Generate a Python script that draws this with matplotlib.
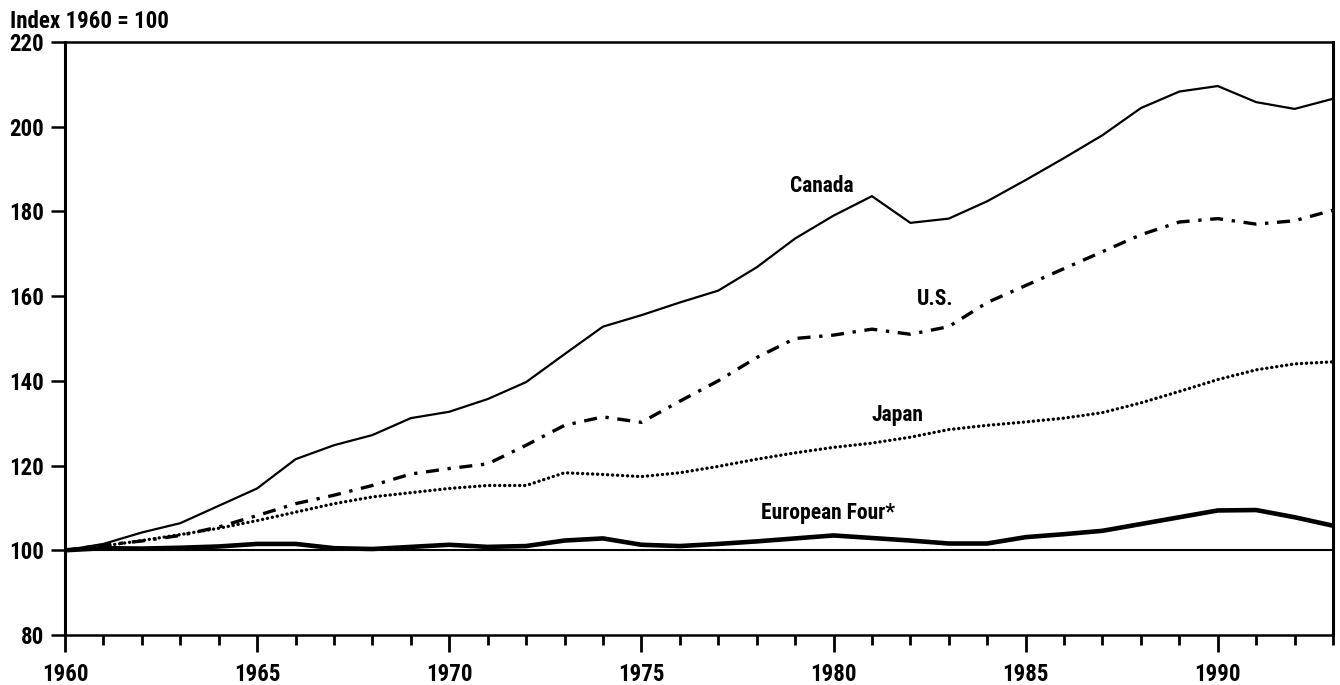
import numpy as np
import matplotlib
matplotlib.use("Agg")
import matplotlib.pyplot as plt
from matplotlib import font_manager as fm

# ------------------------------------------------
# Datos (índice 1960 = 100)
# ------------------------------------------------
years = list(range(1960, 1994))

canada = [100, 101.5, 104.2, 106.4, 110.5, 114.6, 121.5, 124.8, 127.2, 131.2,
          132.7, 135.7, 139.7, 146.3, 152.8, 155.5, 158.5, 161.3, 166.8, 173.6,
          179.0, 183.6, 177.3, 178.3, 182.4, 187.4, 192.6, 198.0, 204.4, 208.3,
          209.6, 205.8, 204.2, 206.6]

us = [100, 101.2, 102.2, 103.5, 105.5, 108.2, 111.0, 113.0, 115.3, 118.0,
      119.3, 120.4, 124.8, 129.5, 131.5, 130.2, 135.2, 140.0, 145.5, 150.0,
      150.8, 152.2, 151.0, 152.8, 158.5, 162.5, 166.5, 170.5, 174.5, 177.5,
      178.3, 177.0, 177.8, 180.3]

japan = [100, 101.0, 102.3, 103.7, 105.2, 107.0, 109.0, 111.0, 112.6, 113.6,
         114.6, 115.3, 115.3, 118.3, 117.9, 117.4, 118.3, 119.8, 121.5, 123.0,
         124.3, 125.3, 126.7, 128.5, 129.5, 130.3, 131.2, 132.5, 134.8, 137.5,
         140.3, 142.6, 144.0, 144.5]

europe4 = [100, 100.5, 100.4, 100.6, 100.9, 101.5, 101.5, 100.5, 100.3, 100.8,
           101.3, 100.8, 101.0, 102.3, 102.8, 101.3, 101.0, 101.5, 102.1, 102.8,
           103.5, 102.9, 102.3, 101.6, 101.6, 103.1, 103.8, 104.6, 106.2, 107.8,
           109.4, 109.5, 107.8, 105.8]

# etiquetas: (texto, año, valor)
labels = [("Canada", 1979.7, 186.0),
          ("U.S.", 1982.65, 159.4),
          ("Japan", 1981.66, 132.0),
          ("European Four*", 1979.87, 108.8)]

y_ticks = [80, 100, 120, 140, 160, 180, 200, 220]
x_major = [1960, 1965, 1970, 1975, 1980, 1985, 1990]

# ------------------------------------------------
# Fuente estrecha (si hay alguna instalada)
# ------------------------------------------------
names = {f.name for f in fm.fontManager.ttflist}
cond_dejavu = any(f.name == "DejaVu Sans" and "condensed" in str(f.stretch)
                  for f in fm.fontManager.ttflist)

FONT = ["DejaVu Sans"]
STRETCH = "normal"
SIZE = 13
for cand in ["Liberation Sans Narrow", "Roboto Condensed", "Open Sans Condensed",
             "Noto Sans Condensed", "Arial Narrow"]:
    if cand in names:
        FONT = [cand, "DejaVu Sans"]
        SIZE = 16.5
        break
else:
    if cond_dejavu:
        STRETCH = "condensed"
        SIZE = 15

plt.rcParams["font.family"] = FONT
plt.rcParams["font.weight"] = "bold"
plt.rcParams["font.stretch"] = STRETCH

# ------------------------------------------------
# Figura
# ------------------------------------------------
fig = plt.figure(figsize=(13.4, 6.85), dpi=100)
ax = fig.add_axes([0.0485, 0.073, 0.9463, 0.8657])

ax.axhline(100, color="black", lw=1.5, zorder=1)

ax.plot(years, canada, color="black", lw=1.6, solid_joinstyle="miter")
ax.plot(years, us, color="black", lw=2.4,
        linestyle=(0, (3.9, 2.6, 1.0, 2.6)), dash_capstyle="butt")
ax.plot(years, japan, color="black", lw=2.4,
        linestyle=(0, (0.05, 1.45)), dash_capstyle="round")
ax.plot(years, europe4, color="black", lw=3.3)

for txt, xx, yy in labels:
    ax.text(xx, yy, txt, ha="center", va="center", fontsize=SIZE - 1,
            fontweight="bold", family=FONT, stretch=STRETCH)

ax.set_xlim(1960, 1993)
ax.set_ylim(80, 220)
ax.set_yticks(y_ticks)
ax.set_xticks(x_major)
ax.set_xticks(years, minor=True)

for s in ax.spines.values():
    s.set_linewidth(1.8)
ax.spines["left"].set_linewidth(2.2)
ax.spines["right"].set_linewidth(2.2)

ax.tick_params(axis="y", direction="out", length=10, width=1.8,
               labelsize=SIZE, pad=5)
ax.tick_params(axis="x", which="major", direction="out", length=12,
               width=2, labelsize=SIZE, pad=8)
ax.tick_params(axis="x", which="minor", direction="out", length=7, width=2)

for lab in ax.get_xticklabels() + ax.get_yticklabels():
    lab.set_fontweight("bold")
    lab.set_fontstretch(STRETCH)

fig.text(10 / 1340, 1 - 21 / 685, "Index 1960 = 100", ha="left", va="center",
         fontsize=SIZE, fontweight="bold", family=FONT, stretch=STRETCH)

fig.savefig("out.png", dpi=100)
